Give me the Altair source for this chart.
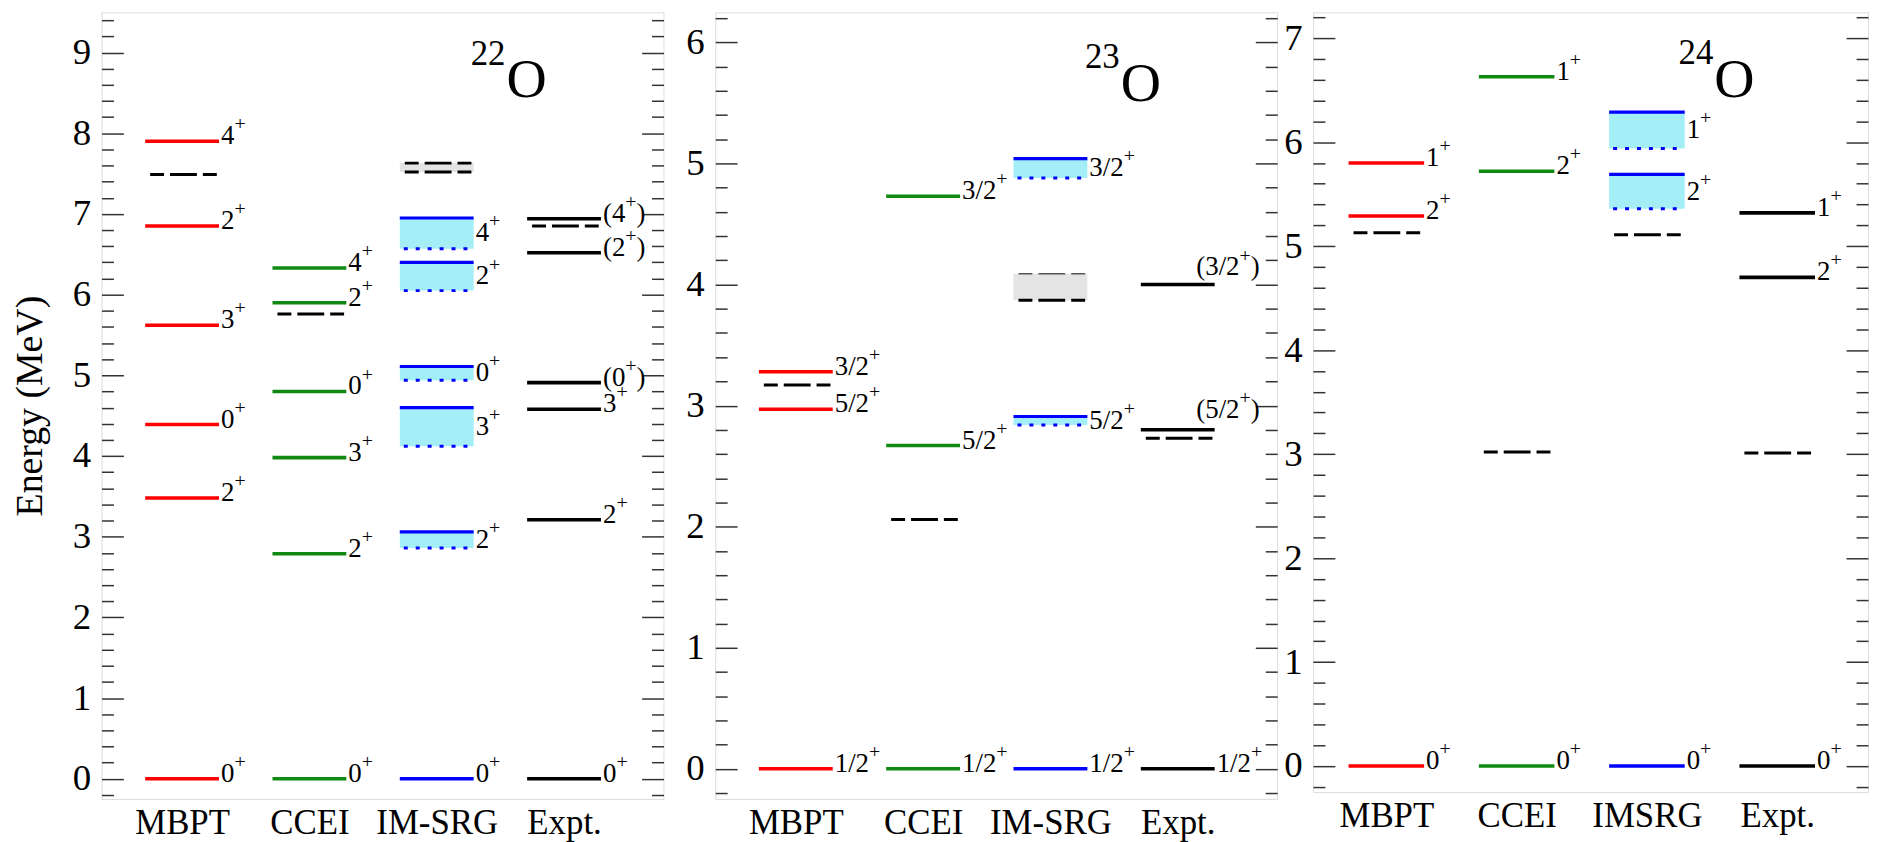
import altair as alt
import pandas as pd

FONT = "Liberation Serif, Times New Roman, serif"
HALF = 0.29  # half length of a level line, in category units
FS_LAB = 27  # level label font size
FS_SUP = 20  # superscript "+" font size
SUP_RAISE = 12  # px the "+" is raised above the label centre
LINE_LAB_RAISE = 5  # px the label centre sits above its level line
CHAR_W = {"0": .5, "1": .5, "2": .5, "3": .5, "4": .5, "5": .5, "6": .5,
          "7": .5, "8": .5, "9": .5, "/": .278, "(": .333, ")": .333, "+": .564}

METHOD_NAMES_A = ["MBPT", "CCEI", "IM-SRG", "Expt."]
METHOD_NAMES_B = ["MBPT", "CCEI", "IMSRG", "Expt."]
METHOD_COLORS = ["#ff0000", "#118811", "#0000ff", "#000000"]

# ---------------- 22O ----------------
O22_MBPT_E = [0.00, 3.48, 4.39, 5.62, 6.85, 7.90]
O22_MBPT_LAB = ["0+", "2+", "0+", "3+", "2+", "4+"]
O22_MBPT_DASH = [7.49]
O22_CCEI_E = [0.00, 2.79, 3.98, 4.80, 5.90, 6.33]
O22_CCEI_LAB = ["0+", "2+", "3+", "0+", "2+", "4+"]
O22_CCEI_DASH = [5.76]
O22_IMSRG_E = [0.00]
O22_IMSRG_LAB = ["0+"]
O22_IMSRG_BAND_HI = [3.06, 4.60, 5.11, 6.40, 6.95]
O22_IMSRG_BAND_LO = [2.86, 4.12, 4.94, 6.05, 6.57]
O22_IMSRG_BAND_LAB = ["2+", "3+", "0+", "2+", "4+"]
O22_IMSRG_GRAY_LO = [7.52]
O22_IMSRG_GRAY_HI = [7.63]
O22_EXPT_E = [0.00, 3.21, 4.58, 4.91, 6.52, 6.94]
O22_EXPT_LAB = ["0+", "2+", "3+", "(0+)", "(2+)", "(4+)"]
O22_EXPT_DASH = [6.85]

# ---------------- 23O ----------------
O23_MBPT_E = [0.00, 2.97, 3.28]
O23_MBPT_LAB = ["1/2+", "5/2+", "3/2+"]
O23_MBPT_DASH = [3.17]
O23_CCEI_E = [0.00, 2.67, 4.73]
O23_CCEI_LAB = ["1/2+", "5/2+", "3/2+"]
O23_CCEI_DASH = [2.06]
O23_IMSRG_E = [0.00]
O23_IMSRG_LAB = ["1/2+"]
O23_IMSRG_BAND_HI = [2.91, 5.04]
O23_IMSRG_BAND_LO = [2.84, 4.88]
O23_IMSRG_BAND_LAB = ["5/2+", "3/2+"]
O23_IMSRG_GRAY_LO = [3.87]
O23_IMSRG_GRAY_HI = [4.09]
O23_EXPT_E = [0.00, 2.80, 4.00]
O23_EXPT_LAB = ["1/2+", "(5/2+)", "(3/2+)"]
O23_EXPT_DASH = [2.73]
# label anchors (category x, energy) for labels set above their line
O23_EXPT_LABEL_AT = {"(5/2+)": (4.13, 2.92), "(3/2+)": (4.13, 4.10)}

# ---------------- 24O ----------------
O24_MBPT_E = [0.00, 5.29, 5.80]
O24_MBPT_LAB = ["0+", "2+", "1+"]
O24_MBPT_DASH = [5.13]
O24_CCEI_E = [0.00, 5.72, 6.63]
O24_CCEI_LAB = ["0+", "2+", "1+"]
O24_CCEI_DASH = [3.02]
O24_IMSRG_E = [0.00]
O24_IMSRG_LAB = ["0+"]
O24_IMSRG_BAND_HI = [5.69, 6.29]
O24_IMSRG_BAND_LO = [5.36, 5.94]
O24_IMSRG_BAND_LAB = ["2+", "1+"]
O24_IMSRG_DASH = [5.11]
O24_EXPT_E = [0.00, 4.70, 5.32]
O24_EXPT_LAB = ["0+", "2+", "1+"]
O24_EXPT_DASH = [3.01]


def text_w(s, fs):
    return sum(CHAR_W.get(c, 0.5) for c in s) * fs


def label_pieces(lab, x0, yc, ppu, ppm):
    """Split 'J+' style label into base, raised '+', and trailing text."""
    i = lab.index("+")
    base, tail = lab[:i], lab[i + 1:]
    wb = text_w(base, FS_LAB)
    rows = [{"px": x0, "pe": yc, "t": base, "fs": FS_LAB},
            {"px": x0 + wb / ppu, "pe": yc + SUP_RAISE / ppm, "t": "+", "fs": FS_SUP}]
    if tail:
        rows.append({"px": x0 + (wb + text_w("+", FS_SUP)) / ppu, "pe": yc,
                     "t": tail, "fs": FS_LAB})
    return rows


def build_panel(lines, dashes, bands, grays, label_at, tag, ydom, xdom,
                width, height, names, show_title):
    ppu = width / (xdom[1] - xdom[0])
    ppm = height / (ydom[1] - ydom[0])

    line_rows, pieces = [], []
    for m, es, labs in lines:
        for e, lab in zip(es, labs):
            if m == 4 and lab in label_at:
                lx, le = label_at[lab]
            else:
                lx, le = m + HALF, e
            line_rows.append({"xl": m - HALF, "xr": m + HALF, "e": e,
                              "col": METHOD_COLORS[m - 1]})
            pieces += label_pieces(lab, lx, le + LINE_LAB_RAISE / ppm, ppu, ppm)
    line_df = pd.DataFrame(line_rows)

    dash_df = pd.DataFrame([{"xl": m - HALF, "xr": m + HALF, "e": e}
                            for m, es in dashes for e in es])

    band_rows = []
    for hi, lo, lab in zip(*bands):
        band_rows.append({"xl": 3 - HALF, "xr": 3 + HALF, "hi": hi, "lo": lo})
        pieces += label_pieces(lab, 3 + HALF, (hi + lo) / 2, ppu, ppm)
    band_df = pd.DataFrame(band_rows)
    piece_df = pd.DataFrame(pieces)

    xs = alt.Scale(domain=xdom, nice=False, zero=False)
    ys = alt.Scale(domain=ydom, nice=False, zero=False)
    label_expr = "[" + ",".join("'%s'" % n for n in names) + "][datum.value - 1]"
    xaxis = alt.Axis(values=[1, 2, 3, 4], labelExpr=label_expr, ticks=False,
                     domain=False, grid=False, title=None, labelFont=FONT,
                     labelFontSize=35, labelColor="black", labelPadding=7,
                     labelFlush=False)

    def X(f):
        return alt.X(f + ":Q", scale=xs, axis=xaxis)

    def Y(f, axis=None):
        return alt.Y(f + ":Q", scale=ys, axis=axis)

    major = list(range(0, int(ydom[1]) + 1))
    minor = []
    v = -0.2
    while v < ydom[1]:
        if abs(v - round(v)) > 1e-6 and v > ydom[0]:
            minor.append(round(v, 1))
        v = round(v + 0.2, 1)

    main_axis = alt.Axis(values=major, ticks=False, domain=False, grid=False,
                         labelFont=FONT, labelFontSize=37, labelColor="black",
                         labelPadding=11, labelFlush=False,
                         title="Energy (MeV)" if show_title else None,
                         titleFont=FONT, titleFontSize=38, titleFontWeight="normal",
                         titleColor="black", titlePadding=23)

    dash_pat = [14, 6, 27, 6]
    layers = []
    # gray uncertainty band (IM-SRG)
    if grays is not None:
        gray_df = pd.DataFrame([{"xl": 3 - HALF, "xr": 3 + HALF, "lo": lo, "hi": hi}
                                for lo, hi in zip(*grays[:2])])
        layers.append(alt.Chart(gray_df).mark_rect(color="#e4e4e4").encode(
            x=X("xl"), x2="xr", y=Y("lo"), y2="hi"))
        layers.append(alt.Chart(gray_df).mark_rule(
            color="black", strokeWidth=3, strokeDash=dash_pat,
            strokeDashOffset=48).encode(x=X("xl"), x2="xr", y=Y("lo")))
        top_w = grays[2]
        layers.append(alt.Chart(gray_df).mark_rule(
            color="black" if top_w > 2 else "#555", strokeWidth=top_w,
            strokeDash=dash_pat, strokeDashOffset=48).encode(
            x=X("xl"), x2="xr", y=Y("hi")))
    # cyan bands
    layers.append(alt.Chart(band_df).mark_rect(color="#a3eef7").encode(
        x=X("xl"), x2="xr", y=Y("lo"), y2="hi"))
    layers.append(alt.Chart(band_df).mark_rule(color="#0000ff", strokeWidth=3.2).encode(
        x=X("xl"), x2="xr", y=Y("hi")))
    layers.append(alt.Chart(band_df).mark_rule(
        color="#0000ff", strokeWidth=3, strokeDash=[4, 8], strokeDashOffset=-4).encode(
        x=X("xl"), x2="xr", y=Y("lo")))
    # dashed black lines
    layers.append(alt.Chart(dash_df).mark_rule(
        color="black", strokeWidth=3, strokeDash=dash_pat,
        strokeDashOffset=48).encode(x=X("xl"), x2="xr", y=Y("e")))
    # solid level lines (this layer carries the main axes)
    layers.append(alt.Chart(line_df).mark_rule(strokeWidth=3.6).encode(
        x=X("xl"), x2="xr", y=Y("e", main_axis),
        color=alt.Color("col:N", scale=None)))
    # spin-parity labels
    layers.append(alt.Chart(piece_df).mark_text(
        align="left", baseline="middle", dx=2, font=FONT, color="black").encode(
        x=X("px"), y=Y("pe"), text="t:N", size=alt.Size("fs:Q", scale=None)))
    # nucleus tag
    tag_df = pd.DataFrame([{"tx": tag[1], "te": tag[2], "a": tag[0], "o": "O"}])
    layers.append(alt.Chart(tag_df).mark_text(
        align="right", baseline="alphabetic", dy=-33, font=FONT, fontSize=35,
        color="black").encode(x=X("tx"), y=Y("te"), text="a:N"))
    layers.append(alt.Chart(tag_df).mark_text(
        align="left", baseline="alphabetic", dx=1, font=FONT, fontSize=56,
        color="black").encode(x=X("tx"), y=Y("te"), text="o:N"))
    # inward ticks on both sides
    for orient in ["left", "right"]:
        for vals, size in [(major, 22), (minor, 12)]:
            ax = alt.Axis(orient=orient, values=vals, tickSize=size, offset=-size,
                          labels=False, domain=False, grid=False, title=None,
                          tickColor="#333333", tickWidth=1.5)
            layers.append(alt.Chart(line_df).mark_rule(opacity=0).encode(
                x=X("xl"), x2="xr", y=Y("e", ax)))

    return alt.layer(*layers).resolve_axis(y="independent").properties(
        width=width, height=height)


p22 = build_panel(
    lines=[(1, O22_MBPT_E, O22_MBPT_LAB), (2, O22_CCEI_E, O22_CCEI_LAB),
           (3, O22_IMSRG_E, O22_IMSRG_LAB), (4, O22_EXPT_E, O22_EXPT_LAB)],
    dashes=[(1, O22_MBPT_DASH), (2, O22_CCEI_DASH), (4, O22_EXPT_DASH)],
    bands=(O22_IMSRG_BAND_HI, O22_IMSRG_BAND_LO, O22_IMSRG_BAND_LAB),
    grays=(O22_IMSRG_GRAY_LO, O22_IMSRG_GRAY_HI, 3),
    label_at={}, tag=("22", 3.54, 8.445), ydom=[-0.25, 9.5],
    xdom=[0.367, 4.781], width=565, height=791, names=METHOD_NAMES_A,
    show_title=True)

p23 = build_panel(
    lines=[(1, O23_MBPT_E, O23_MBPT_LAB), (2, O23_CCEI_E, O23_CCEI_LAB),
           (3, O23_IMSRG_E, O23_IMSRG_LAB), (4, O23_EXPT_E, O23_EXPT_LAB)],
    dashes=[(1, O23_MBPT_DASH), (2, O23_CCEI_DASH), (4, O23_EXPT_DASH)],
    bands=(O23_IMSRG_BAND_HI, O23_IMSRG_BAND_LO, O23_IMSRG_BAND_LAB),
    grays=(O23_IMSRG_GRAY_LO, O23_IMSRG_GRAY_HI, 1.5),
    label_at=O23_EXPT_LABEL_AT, tag=("23", 3.544, 5.52), ydom=[-0.25, 6.25],
    xdom=[0.367, 4.781], width=565, height=791, names=METHOD_NAMES_A,
    show_title=False)

p24 = build_panel(
    lines=[(1, O24_MBPT_E, O24_MBPT_LAB), (2, O24_CCEI_E, O24_CCEI_LAB),
           (3, O24_IMSRG_E, O24_IMSRG_LAB), (4, O24_EXPT_E, O24_EXPT_LAB)],
    dashes=[(1, O24_MBPT_DASH), (2, O24_CCEI_DASH), (3, O24_IMSRG_DASH),
            (4, O24_EXPT_DASH)],
    bands=(O24_IMSRG_BAND_HI, O24_IMSRG_BAND_LO, O24_IMSRG_BAND_LAB),
    grays=None,
    label_at={}, tag=("24", 3.51, 6.435), ydom=[-0.25, 7.25],
    xdom=[0.437, 4.697], width=558, height=784, names=METHOD_NAMES_B,
    show_title=False)

left_pair = alt.hconcat(p22, p23, spacing=52, bounds="flush")
chart = alt.hconcat(left_pair, p24, spacing=4).properties(
    padding={"left": 3, "top": 1, "right": 0, "bottom": 0}
).configure_view(stroke="#333333", strokeWidth=1.5).configure(background="white")

chart.save("out.html", embed_options={"renderer": "svg", "actions": False})
